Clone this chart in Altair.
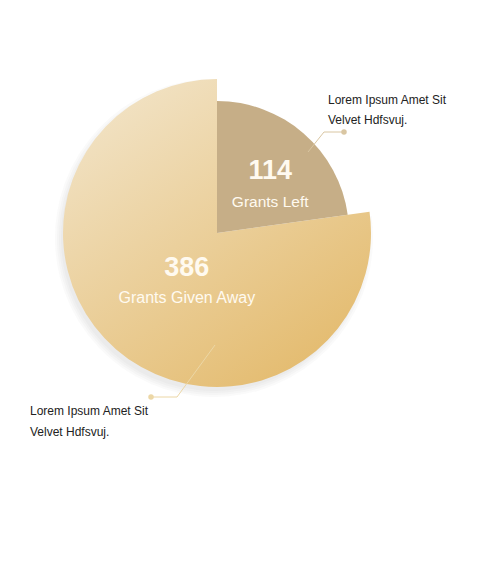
import altair as alt
import pandas as pd

# ---- data ----
categories = ["Grants Left", "Grants Given Away"]
counts = [114, 386]
note_lines = ["Lorem Ipsum Amet Sit", "Velvet Hdfsvuj."]

W, H = 481, 567
CX, CY = 217, 233  # pie centre (layout)

df = pd.DataFrame({"category": categories, "count": counts, "order": [0, 1]})

base = alt.Chart(df).transform_window(
    cum="sum(count)", sort=[alt.SortField("order")], frame=[None, 0]
).transform_joinaggregate(total="sum(count)").transform_calculate(
    t0="2*PI*(datum.cum - datum.count)/datum.total",
    t1="2*PI*datum.cum/datum.total",
    tm="PI*(2*datum.cum - datum.count)/datum.total",
)

grad = alt.Gradient(
    gradient="linear",
    stops=[
        alt.GradientStop(color="#f2e4c8", offset=0),
        alt.GradientStop(color="#e3b96a", offset=1),
    ],
    x1=0.15, y1=0, x2=0.85, y2=1,
)

big = base.transform_filter(alt.datum.category == "Grants Given Away")
small = base.transform_filter(alt.datum.category == "Grants Left")

def arc_layer(src, r, fill, dx=0, dy=0, opacity=1.0):
    return src.mark_arc(radius=r, fill=fill, opacity=opacity).encode(
        theta=alt.Theta("t0:Q", scale=None),
        theta2="t1:Q",
        x=alt.value(CX + dx),
        y=alt.value(CY + dy),
    )

shadows = [arc_layer(big, 152 + k, "#555555", -3, 5, 0.03) for k in (1, 3, 5, 7)]
big_arc = arc_layer(big, 154, grad)
small_arc = arc_layer(small, 132, "#c6ae87")

def value_text(src, r, size, dy, field, bold):
    return src.mark_text(
        radius=r, font="Liberation Sans", fontSize=size,
        fontWeight="bold" if bold else "normal", color="#fffaf0", dy=dy,
    ).encode(
        theta=alt.Theta("tm:Q", scale=None),
        x=alt.value(CX), y=alt.value(CY),
        text=alt.Text(field),
    )

small_num = value_text(small, 81, 27, -1, "count:Q", True)
small_lbl = value_text(small, 81, 15.5, 30, "category:N", False)
big_num = value_text(big, 46, 27, 0, "count:Q", True)
big_lbl = value_text(big, 46, 16, 30, "category:N", False)

xs = alt.Scale(domain=[0, W], range=[0, W])
ys = alt.Scale(domain=[0, H], range=[0, H])

# leader lines (layout points)
lead = pd.DataFrame({
    "x": [344, 324, 308, 151, 177, 215],
    "y": [132, 132, 152, 397, 397, 345],
    "g": ["a", "a", "a", "b", "b", "b"],
    "o": [0, 1, 2, 0, 1, 2],
})
lines = alt.Chart(lead).mark_line(strokeWidth=1).encode(
    x=alt.X("x:Q", scale=xs, axis=None),
    y=alt.Y("y:Q", scale=ys, axis=None),
    detail="g:N",
    order="o:Q",
    color=alt.Color("g:N", scale=alt.Scale(domain=["a", "b"], range=["#d9c6a2", "#ecd7a6"]), legend=None),
)
dots = alt.Chart(lead[lead.o == 0]).mark_circle(size=30, opacity=1).encode(
    x=alt.X("x:Q", scale=xs, axis=None),
    y=alt.Y("y:Q", scale=ys, axis=None),
    color=alt.Color("g:N", scale=alt.Scale(domain=["a", "b"], range=["#d4be96", "#e9cf98"]), legend=None),
)

notes = pd.DataFrame({
    "x": [328, 328, 30, 30],
    "y": [100, 120, 411, 432],
    "t": note_lines + note_lines,
})
note_text = alt.Chart(notes).mark_text(
    align="left", baseline="middle", font="Liberation Sans", fontSize=12, color="#222222"
).encode(
    x=alt.X("x:Q", scale=xs, axis=None),
    y=alt.Y("y:Q", scale=ys, axis=None),
    text="t:N",
)

chart = alt.layer(
    *shadows, big_arc, small_arc,
    small_num, small_lbl, big_num, big_lbl,
    lines, dots, note_text,
).properties(
    width=W, height=H, padding=0, autosize=alt.AutoSizeParams(type="none"),
    background="white",
).configure_view(stroke=None)

chart.save("out.html", embed_options={"renderer": "svg", "actions": False})
